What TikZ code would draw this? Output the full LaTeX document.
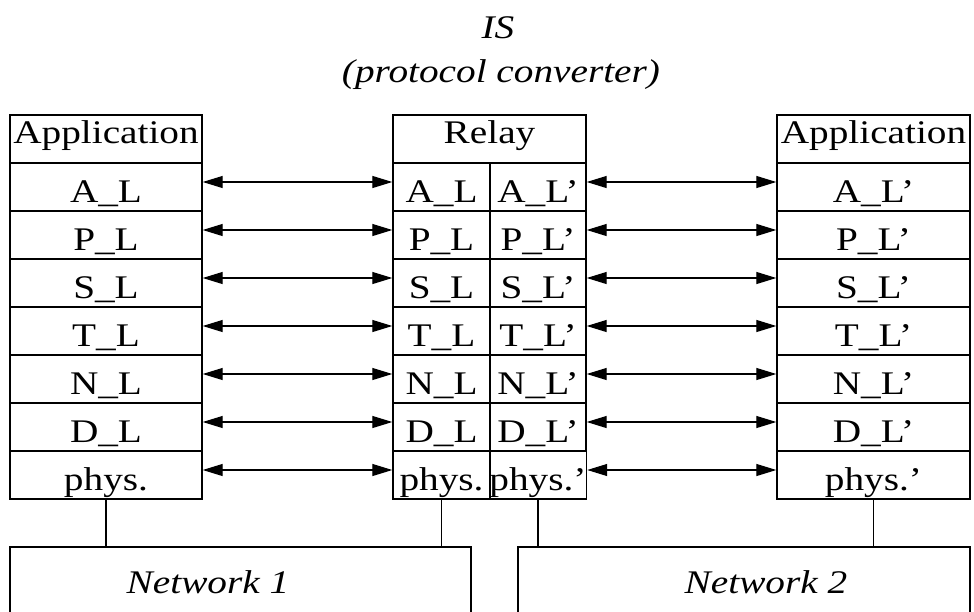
\documentclass[tikz,border=0pt]{standalone}
\usepackage{fontspec}
\setmainfont{Liberation Serif}[FakeStretch=1.19]
\usetikzlibrary{arrows.meta}
\begin{document}
\begin{tikzpicture}[x=1pt,y=-1pt,
  txt/.style={font=\fontsize{33}{36}\selectfont},
  ital/.style={font=\fontsize{33}{36}\selectfont\itshape},
  cell/.style={txt,draw,line width=1.4pt,rectangle,inner sep=0pt,
    minimum height=48pt,text height=30pt,text depth=0pt},
  head/.style={cell,text height=24pt,text depth=16pt},
  link/.style={line width=1.2pt,{Triangle[length=20pt,width=12pt]}-{Triangle[length=20pt,width=12pt]}},
  wire/.style={line width=1.4pt},
  netbox/.style={line width=1.4pt}]
\useasboundingbox (0,0) rectangle (974,611);

% titles
\node[ital,anchor=base,inner sep=0pt] (is) at (498,38) {IS};
\node[ital,anchor=base,inner sep=0pt] (conv) at (501,82) {(protocol converter)};

% header row
\node[head,minimum width=192pt] (L0) at (106,139) {Application};
\node[head,minimum width=193pt] (M0) at (489.5,139) {Relay};
\node[head,minimum width=193pt] (R0) at (873.5,139) {Application};

% layer rows
\foreach \n/\t in {1/A,2/P,3/S,4/T,5/N,6/D}{
  \node[cell,minimum width=192pt] (L\n) at (106,{139+48*\n}) {\t\_L};
  \node[cell,minimum width=97pt] (Ma\n) at (441.5,{139+48*\n}) {\t\_L};
  \node[cell,minimum width=96pt] (Mb\n) at (538,{139+48*\n}) {\t\_L'};
  \node[cell,minimum width=193pt] (R\n) at (873.5,{139+48*\n}) {\t\_L'};
}
\node[cell,minimum width=192pt] (L7) at (106,475) {phys.};
\node[cell,minimum width=97pt] (Ma7) at (441.5,475) {phys.};
\node[cell,minimum width=96pt] (Mb7) at (538,475) {phys.'};
\node[cell,minimum width=193pt] (R7) at (873.5,475) {phys.'};

% peer arrows
\foreach \n in {1,...,7}{
  \draw[link] ([yshift=5pt]L\n.east) -- ([yshift=5pt]Ma\n.west);
  \draw[link] ([yshift=5pt]Mb\n.east) -- ([yshift=5pt]R\n.west);
}

% networks
\coordinate (nettop) at (0,547);
\draw[netbox] (10,614) |- (471,547) -- (471,614);
\draw[netbox] (518,614) |- (970,547) -- (970,614);
\node[ital,anchor=base,inner sep=0pt] (net1) at (208,593) {Network 1};
\node[ital,anchor=base,inner sep=0pt] (net2) at (766,593) {Network 2};

% attachments
\draw[wire] (L7.south) -- (L7.south |- nettop);
\draw[wire] (Ma7.south) -- (Ma7.south |- nettop);
\draw[wire] (Mb7.south) -- (Mb7.south |- nettop);
\draw[wire] (R7.south) -- (R7.south |- nettop);
\end{tikzpicture}
\end{document}
